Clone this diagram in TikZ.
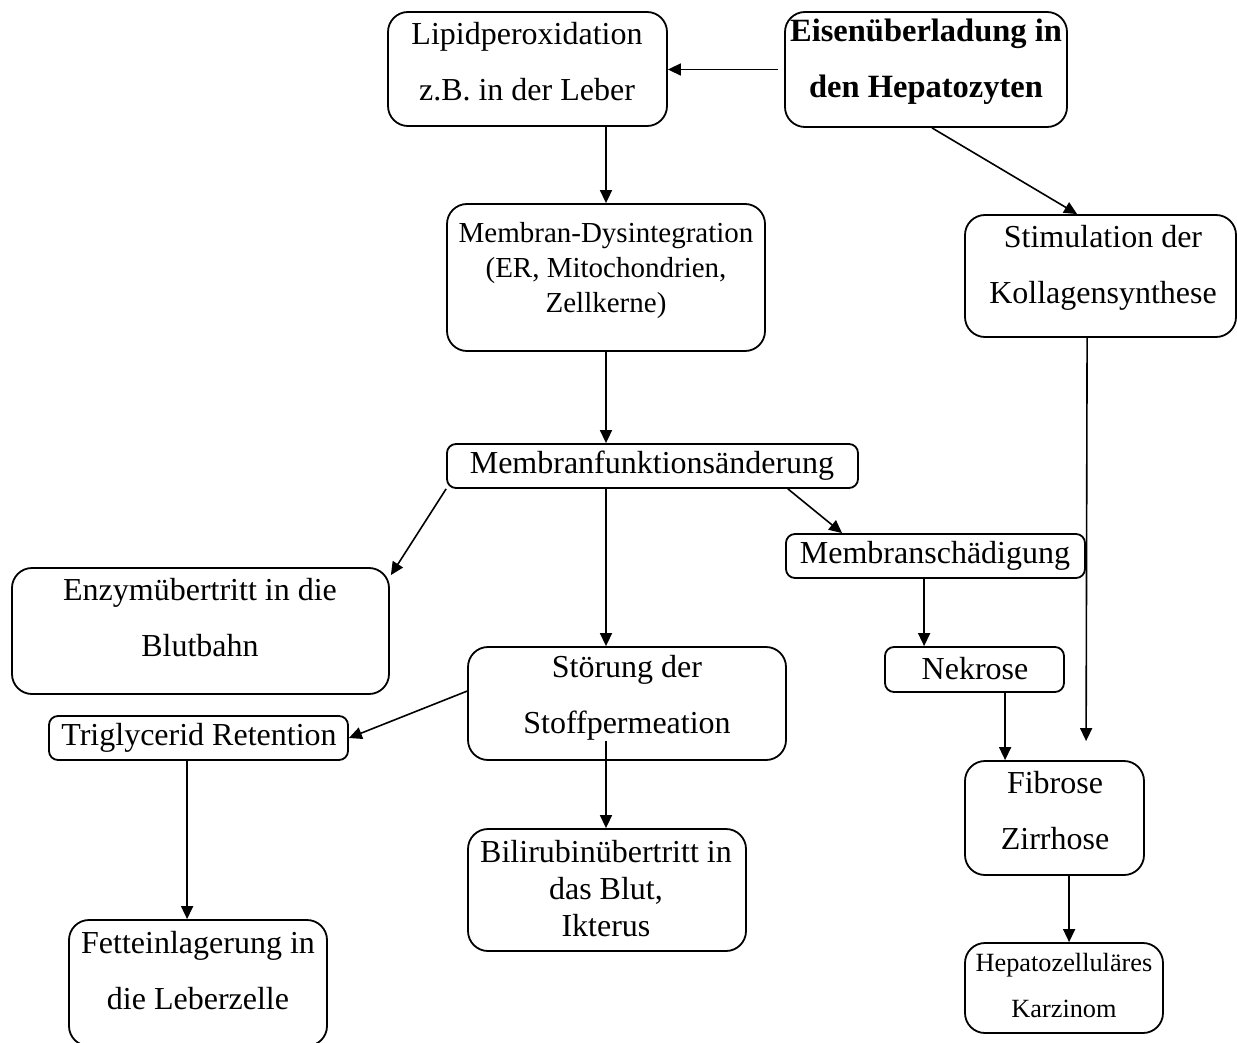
\documentclass[tikz,border=0pt]{standalone}
\usepackage{fontspec}
\setmainfont{Liberation Serif}
\usetikzlibrary{arrows.meta,calc,fit}
\begin{document}
\begin{tikzpicture}[x=1pt,y=-1pt,
  bx/.style={draw, line width=1.8pt, rounded corners=20pt, inner sep=0pt},
  sbx/.style={draw, line width=1.8pt, rounded corners=9pt, inner sep=0pt},
  txt/.style={inner sep=0pt, align=center, font=\fontsize{32}{56}\selectfont},
  arr/.style={line width=1.6pt, -{Triangle[length=13pt,width=12pt]}}]
\useasboundingbox (0,0) rectangle (1237,1043);

% boxes
\node[bx,  fit={(388,12) (667,126)}] (lip) {};
\node[bx,  fit={(785,12) (1067,127)}] (eis) {};
\node[bx,  fit={(447,204) (765,351)}] (dys) {};
\node[bx,  fit={(965,215) (1236,337)}] (sti) {};
\node[sbx, fit={(447,444) (858,488)}] (mfa) {};
\node[sbx, fit={(786,534) (1085,578)}] (msc) {};
\node[bx,  fit={(12,568) (389,694)}] (enz) {};
\node[bx,  fit={(468,647) (786,760)}] (sto) {};
\node[sbx, fit={(885,647) (1064,692)}] (nek) {};
\node[sbx, fit={(49,716) (348,760)}] (tri) {};
\node[bx,  fit={(965,761) (1144,875)}] (fib) {};
\node[bx,  fit={(468,829) (746,951)}] (bil) {};
\node[bx,  fit={(69,920) (327,1046)}] (fet) {};
\node[bx,  fit={(965,943) (1163,1033)}] (kar) {};

% texts
\node[txt] (lip-t) at (527,62) {Lipidperoxidation\\z.B. in der Leber};
\node[txt, font=\fontsize{32.5}{56}\selectfont\bfseries] (eis-t) at (926,62) {Eisenüberladung in\\den Hepatozyten};
\node[txt, font=\fontsize{29}{35}\selectfont] (dys-t) at (606,271) {Membran-Dysintegration\\(ER, Mitochondrien,\\Zellkerne)};
\node[txt] (sti-t) at (1103,268) {Stimulation der\\Kollagensynthese};
\node[txt] (mfa-t) at (652,466) {Membranfunktionsänderung};
\node[txt] (msc-t) at (935,556) {Membranschädigung};
\node[txt] (enz-t) at (200,618) {Enzymübertritt in die\\Blutbahn};
\node[txt] (sto-t) at (627,698) {Störung der\\Stoffpermeation};
\node[txt] (nek-t) at (975,669) {Nekrose};
\node[txt] (tri-t) at (199,738) {Triglycerid Retention};
\node[txt] (fib-t) at (1055,811) {Fibrose\\Zirrhose};
\node[txt, font=\fontsize{32}{37}\selectfont] (bil-t) at (606,889) {Bilirubinübertritt in\\das Blut,\\Ikterus};
\node[txt] (fet-t) at (198,971) {Fetteinlagerung in\\die Leberzelle};
\node[txt, font=\fontsize{26.3}{46}\selectfont] (kar-t) at (1064,985) {Hepatozelluläres\\Karzinom};

% helper coordinates
\coordinate (eisW) at ($(eis.west)+(-6,0)$);
\coordinate (eisS) at ($(eis.south)+(6,0)$);
\coordinate (stiN) at ($(sti.north west)+(113,0)$);
\coordinate (stiS) at ($(sti.south west)+(123,0)$);
\coordinate (fibA) at ($(fib.north west)+(122,-19)$);
\coordinate (enzA) at ($(enz.north east)+(1,8)$);
\coordinate (mfaR) at ($(mfa.south east)+(-71,0)$);
\coordinate (mscN) at ($(msc.north west)+(57,0)$);
\coordinate (mscS) at ($(msc.south west)+(139,0)$);
\coordinate (nekS) at ($(nek.south west)+(121,0)$);
\coordinate (stoW) at ($(sto.north west)+(0,45)$);
\coordinate (triS) at ($(tri.south west)+(139,0)$);
\coordinate (stoI) at ($(dys.south |- sto.south)+(0,-20)$);
\coordinate (fibS) at ($(fib.south west)+(105,0)$);

% connectors
\draw[arr] (eisW) -- (eisW -| lip.east);
\draw[arr] (eisS) -- (stiN);
\draw[arr] (lip.south -| dys.north) -- (dys.north);
\draw[arr] (dys.south) -- (dys.south |- mfa.north);
\draw[arr] (stiS) -- (fibA);
\draw[arr] (mfa.south west) -- (enzA);
\draw[arr] (dys.south |- mfa.south) -- (dys.south |- sto.north);
\draw[arr] (mfaR) -- (mscN);
\draw[arr] (mscS) -- (mscS |- nek.north);
\draw[arr] (nekS) -- (nekS |- fib.north);
\draw[arr] (stoW) -- (tri.east);
\draw[arr] (triS) -- (triS |- fet.north);
\draw[arr] (stoI) -- (stoI |- bil.north);
\draw[arr] (fibS) -- (fibS |- kar.north);
\end{tikzpicture}
\end{document}
